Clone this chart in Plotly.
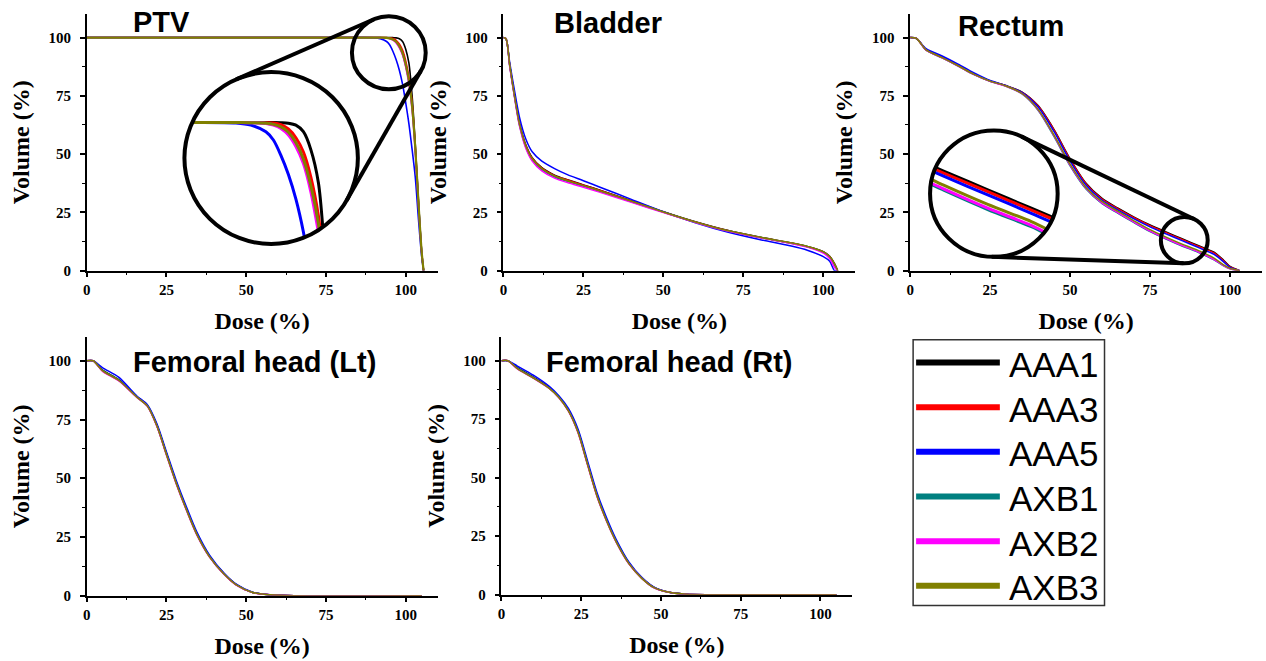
import math
import plotly.graph_objects as go

# ---------------- data ----------------
SERIES = ["AAA1", "AAA3", "AAA5", "AXB1", "AXB2", "AXB3"]
COLORS = ["#000000", "#ff0000", "#0000ff", "#008080", "#ff00ff", "#808000"]
TICKS = [0, 25, 50, 75, 100]
PANEL_TITLES = ["PTV", "Bladder", "Rectum", "Femoral head (Lt)", "Femoral head (Rt)"]

PTV_DOSE = [0, 85, 90, 92, 94, 95, 96, 97, 98, 99, 100, 101, 102, 103, 104, 105, 105.6]
PTV_AAA1 = [100, 100, 100, 100, 100, 100, 99.95, 99.85, 99.5, 98.3, 95, 89, 75, 54, 30, 8, 0]
PTV_AAA3 = [100, 100, 100, 100, 99.95, 99.9, 99.6, 98.8, 97.2, 94.6, 90, 83, 72, 53, 29, 8, 0]
PTV_AAA5 = [100, 100, 99.9, 99.5, 98.3, 96.8, 94, 90.5, 86, 80, 72, 63, 52, 40, 22, 6, 0]
PTV_AXB1 = [100, 100, 100, 99.95, 99.85, 99.6, 99.1, 98.0, 96.0, 93.0, 88.0, 81.0, 70.0, 52, 29, 8, 0]
PTV_AXB2 = [100, 100, 100, 99.95, 99.8, 99.5, 98.9, 97.7, 95.6, 92.5, 87.3, 80.0, 69.0, 51, 28, 7.5, 0]
PTV_AXB3 = [100, 100, 100, 99.95, 99.85, 99.65, 99.2, 98.2, 96.3, 93.3, 88.4, 81.5, 70.5, 52.5, 29, 8, 0]

BL_DOSE = [0, 0.8, 2, 3.5, 5, 7, 9, 12, 16, 20, 25, 30, 40, 50, 60, 70, 80, 90, 95, 100, 102, 103.5, 104.5]
BL_AAA1 = [100, 99.5, 88, 75, 63.5, 54, 48.5, 44.2, 41, 39, 36.8, 34.6, 30, 25.3, 21, 17.3, 14.4, 11.9, 10.4, 8.2, 6.2, 3, 0]
BL_AAA3 = [100, 99.5, 87.8, 74.8, 63.2, 53.7, 48.2, 44, 40.8, 38.9, 36.7, 34.5, 29.9, 25.2, 20.9, 17.2, 14.3, 11.8, 10.3, 8.0, 6.0, 2.8, 0]
BL_AAA5 = [100, 99.5, 89, 77, 66, 56.5, 51, 47, 43.8, 41.2, 38.6, 35.9, 30.6, 25.3, 20.6, 16.6, 13.4, 10.6, 8.8, 6.0, 4.0, 0, 0]
BL_AXB1 = [100, 99.5, 87.5, 74.3, 62.6, 53, 47.5, 43.3, 40.2, 38.3, 36.2, 34.1, 29.6, 25.1, 20.8, 17.1, 14.3, 11.8, 10.3, 7.9, 5.8, 2.5, 0]
BL_AXB2 = [100, 99.5, 87.2, 74, 62.2, 52.5, 47, 42.8, 39.7, 37.8, 35.8, 33.7, 29.3, 24.9, 20.7, 17.0, 14.2, 11.7, 10.1, 7.5, 5.2, 1.5, 0]
BL_AXB3 = [100, 99.5, 87.8, 74.7, 63, 53.5, 48, 43.8, 40.6, 38.6, 36.5, 34.3, 29.8, 25.2, 20.9, 17.2, 14.4, 11.9, 10.4, 8.1, 6.1, 2.9, 0]

RE_DOSE = [0, 2, 5, 10, 15, 20, 25, 30, 35, 40, 45, 50, 55, 60, 65, 70, 75, 80, 85, 90, 95, 98, 100, 103]
RE_AAA1 = [100, 99.6, 94.8, 91.6, 88.1, 84.3, 81.4, 79.3, 76.6, 70.8, 60.5, 48.0, 37.5, 31.0, 26.8, 23.0, 19.6, 16.6, 13.7, 10.8, 7.9, 4.5, 1.8, 0]
RE_AAA3 = [100, 99.6, 94.7, 91.5, 88.0, 84.2, 81.3, 79.3, 76.5, 70.6, 60.3, 47.7, 37.2, 30.7, 26.5, 22.7, 19.3, 16.3, 13.4, 10.5, 7.6, 4.2, 1.6, 0]
RE_AAA5 = [100, 99.6, 95.2, 92.1, 88.6, 84.8, 81.6, 79.4, 76.4, 70.2, 59.6, 47.0, 36.6, 30.2, 26.0, 22.2, 18.8, 15.8, 12.9, 10.0, 7.0, 3.8, 1.4, 0]
RE_AXB1 = [100, 99.6, 94.6, 91.3, 87.8, 84.1, 81.2, 79.1, 75.8, 68.8, 57.5, 45.0, 35.0, 28.8, 24.6, 20.6, 16.8, 13.6, 10.6, 7.9, 4.6, 2.1, 0.8, 0]
RE_AXB2 = [100, 99.6, 94.6, 91.3, 87.8, 84.1, 81.2, 79.1, 75.9, 69.0, 57.8, 45.3, 35.3, 29.0, 24.8, 20.8, 17.0, 13.8, 10.8, 8.1, 4.8, 2.2, 0.8, 0]
RE_AXB3 = [100, 99.6, 94.7, 91.4, 87.9, 84.2, 81.3, 79.2, 76.0, 69.2, 58.1, 45.7, 35.7, 29.6, 25.4, 21.4, 17.6, 14.4, 11.4, 8.7, 5.4, 2.5, 1.0, 0]

FHL_DOSE = [0, 2, 5, 10, 15.7, 19, 22, 25, 28, 31.5, 34.5, 38.5, 43, 47, 52, 57.5, 65, 105]
FHL_AAA1 = [100, 100, 96.0, 92.0, 84.8, 81.0, 72.6, 60.5, 48.5, 36.2, 26.5, 16.8, 9.4, 4.6, 1.4, 0.4, 0, 0]
FHL_AAA3 = [100, 100, 95.6, 91.6, 84.6, 80.8, 72.3, 60.2, 48.2, 35.9, 26.2, 16.6, 9.3, 4.5, 1.4, 0.4, 0, 0]
FHL_AAA5 = [100, 100, 97.0, 93.0, 85.0, 81.3, 73.2, 61.2, 49.3, 37.0, 27.2, 17.3, 9.7, 4.8, 1.5, 0.4, 0, 0]
FHL_AXB1 = [100, 100, 95.8, 91.8, 84.6, 80.9, 72.4, 60.3, 48.3, 36.0, 26.3, 16.7, 9.3, 4.5, 1.4, 0.4, 0, 0]
FHL_AXB2 = [100, 100, 95.5, 91.5, 84.4, 80.6, 72.0, 59.8, 47.8, 35.5, 25.9, 16.4, 9.1, 4.4, 1.3, 0.4, 0, 0]
FHL_AXB3 = [100, 100, 95.7, 91.7, 84.5, 80.7, 72.2, 60.0, 48.0, 35.7, 26.1, 16.5, 9.2, 4.5, 1.4, 0.4, 0, 0]

FHR_DOSE = [0, 2, 5, 10, 15, 18, 21, 24, 27, 30, 33, 36, 40, 44, 48, 53, 58, 65, 105]
FHR_AAA1 = [100, 100, 97.0, 93.0, 88.5, 84.6, 79.0, 70.0, 56.2, 42.6, 32.0, 23.0, 13.5, 7.2, 3.0, 0.9, 0.2, 0, 0]
FHR_AAA3 = [100, 100, 96.7, 92.7, 88.3, 84.4, 78.7, 69.6, 55.8, 42.2, 31.6, 22.7, 13.3, 7.1, 2.9, 0.9, 0.2, 0, 0]
FHR_AAA5 = [100, 100, 97.7, 93.8, 89.0, 85.0, 79.6, 70.8, 57.2, 43.5, 32.8, 23.6, 13.9, 7.4, 3.1, 0.9, 0.2, 0, 0]
FHR_AXB1 = [100, 100, 96.8, 92.8, 88.3, 84.5, 78.8, 69.8, 56.0, 42.4, 31.8, 22.8, 13.4, 7.1, 2.9, 0.9, 0.2, 0, 0]
FHR_AXB2 = [100, 100, 96.5, 92.5, 88.1, 84.2, 78.4, 69.2, 55.4, 41.8, 31.3, 22.4, 13.1, 7.0, 2.8, 0.9, 0.2, 0, 0]
FHR_AXB3 = [100, 100, 96.6, 92.6, 88.2, 84.3, 78.5, 69.4, 55.6, 42.0, 31.4, 22.5, 13.2, 7.0, 2.9, 0.9, 0.2, 0, 0]

PANELS = [
    (PTV_DOSE, [PTV_AAA1, PTV_AAA3, PTV_AAA5, PTV_AXB1, PTV_AXB2, PTV_AXB3]),
    (BL_DOSE, [BL_AAA1, BL_AAA3, BL_AAA5, BL_AXB1, BL_AXB2, BL_AXB3]),
    (RE_DOSE, [RE_AAA1, RE_AAA3, RE_AAA5, RE_AXB1, RE_AXB2, RE_AXB3]),
    (FHL_DOSE, [FHL_AAA1, FHL_AAA3, FHL_AAA5, FHL_AXB1, FHL_AXB2, FHL_AXB3]),
    (FHR_DOSE, [FHR_AAA1, FHR_AAA3, FHR_AAA5, FHR_AXB1, FHR_AXB2, FHR_AXB3]),
]

# ---------------- layout geometry (pixels) ----------------
W, H = 1266, 661
X_MAX = 110
Y_MAX = 110.17   # puts the 100 % level on a whole pixel row in the top panels
# (left, right, top, bottom) of each panel's plot area in px
BOXES = [(83, 435, 14, 274), (501, 854, 14, 274), (909, 1262, 14, 274),
         (83, 435, 341, 603), (499, 851, 341, 602)]
TITLE_POS = [(127, 22), (550, 23), (955, 26), (127, 366), (542, 366)]
# line widths per series in each main panel (PTV: the top-drawn olive covers the flat 100 % run)
PANEL_WIDTHS = [[1.6, 1.6, 1.6, 1.6, 1.6, 2.2]] + [[1.5] * 6] * 4

SERIF = "Liberation Serif, Times New Roman, serif"
SANS = "Liberation Sans, Arial, sans-serif"


def fx(px):
    return px / W


def fy(py):
    return 1 - py / H


def data_to_px(panel, x, y):
    l, r, t, b = BOXES[panel]
    return l + x / X_MAX * (r - l), b - y / Y_MAX * (b - t)


fig = go.Figure()

# main panels
for p, (dose, vols) in enumerate(PANELS):
    sfx = "" if p == 0 else str(p + 1)
    for name, color, vol, lw in zip(SERIES, COLORS, vols, PANEL_WIDTHS[p]):
        fig.add_trace(go.Scatter(x=dose, y=vol, mode="lines", name=name,
                                 line=dict(color=color, width=lw, shape="spline", smoothing=0.8),
                                 xaxis="x" + sfx, yaxis="y" + sfx, showlegend=False))
    l, r, t, b = BOXES[p]
    common = dict(showline=True, linecolor="black", linewidth=1.5,
                  ticks="outside", ticklen=5, tickwidth=1.5, tickcolor="black",
                  tickmode="array", tickvals=TICKS, showgrid=False, zeroline=False,
                  tickfont=dict(family=SERIF, size=15, color="black", weight="bold"),
                  minor=dict(ticks="outside", ticklen=3, tickwidth=1.2, tickcolor="black",
                             dtick=12.5, tick0=0, showgrid=False),
                  fixedrange=True)
    fig.update_layout(**{
        "xaxis" + sfx: dict(common, range=[0, X_MAX], domain=[fx(l), fx(r)], anchor="y" + sfx,
                            title=dict(text="Dose (%)", standoff=15,
                                       font=dict(family=SERIF, size=24, color="black", weight="bold"))),
        "yaxis" + sfx: dict(common, range=[0, Y_MAX], domain=[fy(b), fy(t)], anchor="x" + sfx,
                            ticklabelstandoff=6,
                            title=dict(text="Volume (%)", standoff=12,
                                       font=dict(family=SERIF, size=24, color="black", weight="bold"))),
    })

shapes = []
annotations = []

# panel titles
for (tx, ty), txt in zip(TITLE_POS, PANEL_TITLES):
    annotations.append(dict(text=txt, x=fx(tx), y=fy(ty), xref="paper", yref="paper",
                            xanchor="left", yanchor="middle", showarrow=False,
                            font=dict(family=SANS, size=29, color="black", weight="bold")))


# ---------------- magnifier insets ----------------
def clip_circle(xs, ys, xc, yc, hx, hy):
    def inside(x, y):
        return ((x - xc) / hx) ** 2 + ((y - yc) / hy) ** 2 <= 1.0

    def edge(a, b):
        lo, hi = 0.0, 1.0
        ia = inside(*a)
        for _ in range(40):
            m = (lo + hi) / 2
            pt = (a[0] + (b[0] - a[0]) * m, a[1] + (b[1] - a[1]) * m)
            if inside(*pt) == ia:
                lo = m
            else:
                hi = m
        m = (lo + hi) / 2
        return (a[0] + (b[0] - a[0]) * m, a[1] + (b[1] - a[1]) * m)

    ox, oy = [], []
    n = len(xs)
    for i in range(n):
        cur = (xs[i], ys[i])
        if inside(*cur):
            if i > 0 and not inside(xs[i - 1], ys[i - 1]):
                e = edge(cur, (xs[i - 1], ys[i - 1]))
                ox.append(e[0]); oy.append(e[1])
            ox.append(cur[0]); oy.append(cur[1])
            if i < n - 1 and not inside(xs[i + 1], ys[i + 1]):
                e = edge(cur, (xs[i + 1], ys[i + 1]))
                ox.append(e[0]); oy.append(e[1])
    return ox, oy


def ext_tangents(c1, r1, c2, r2):
    dx, dy = c2[0] - c1[0], c2[1] - c1[1]
    D = math.hypot(dx, dy)
    th = math.atan2(dy, dx)
    a = math.acos((r2 - r1) / D)
    lines = []
    for s in (1, -1):
        phi = th + s * a
        n = (math.cos(phi), math.sin(phi))
        p1 = (c1[0] - r1 * n[0], c1[1] - r1 * n[1])
        p2 = (c2[0] - r2 * n[0], c2[1] - r2 * n[1])
        lines.append((p1, p2))
    return lines


# (panel, small circle centre in data units, small radius px, big centre px, big radius px, axis id)
INSETS = [
    (0, (94.7, 93.5), 37, (268, 160), 87, "6"),
    (2, (85.7, 13.1), 23.5, (993, 196), 64, "7"),
]

for panel, (dxc, dyc), rs, (bx, by), rb, aid in INSETS:
    l, r, t, b = BOXES[panel]
    sx = (r - l) / X_MAX
    sy = (b - t) / Y_MAX
    hx, hy = rs / sx, rs / sy
    dose, vols = PANELS[panel]
    for name, color, vol in zip(SERIES, COLORS, vols):
        cx_, cy_ = clip_circle(dose, vol, dxc, dyc, hx, hy)
        fig.add_trace(go.Scatter(x=cx_, y=cy_, mode="lines", name=name,
                                 line=dict(color=color, width=3, shape="spline", smoothing=0.8),
                                 xaxis="x" + aid, yaxis="y" + aid, showlegend=False))
    fig.update_layout(**{
        "xaxis" + aid: dict(domain=[fx(bx - rb), fx(bx + rb)], range=[dxc - hx, dxc + hx],
                            visible=False, anchor="y" + aid, fixedrange=True),
        "yaxis" + aid: dict(domain=[fy(by + rb), fy(by - rb)], range=[dyc - hy, dyc + hy],
                            visible=False, anchor="x" + aid, fixedrange=True),
    })
    spx, spy = data_to_px(panel, dxc, dyc)
    # small + big circles
    for (ccx, ccy), rr in (((spx, spy), rs), ((bx, by), rb)):
        shapes.append(dict(type="circle", xref="paper", yref="paper",
                           x0=fx(ccx - rr), x1=fx(ccx + rr), y0=fy(ccy + rr), y1=fy(ccy - rr),
                           line=dict(color="black", width=4), layer="above"))
    for p1, p2 in ext_tangents((bx, by), rb, (spx, spy), rs):
        shapes.append(dict(type="line", xref="paper", yref="paper",
                           x0=fx(p1[0]), y0=fy(p1[1]), x1=fx(p2[0]), y1=fy(p2[1]),
                           line=dict(color="black", width=4), layer="above"))

# ---------------- legend box ----------------
LEG = (912, 344, 1104, 613)
shapes.append(dict(type="rect", xref="paper", yref="paper",
                   x0=fx(LEG[0]), x1=fx(LEG[2]), y0=fy(LEG[3]), y1=fy(LEG[1]),
                   line=dict(color="#333333", width=1.5), fillcolor="white", layer="below"))
row0, rowgap = 367, 45.2
for i, (name, color) in enumerate(zip(SERIES, COLORS)):
    ry = row0 + i * rowgap
    shapes.append(dict(type="line", xref="paper", yref="paper",
                       x0=fx(915), x1=fx(999), y0=fy(ry), y1=fy(ry),
                       line=dict(color=color, width=6), layer="above"))
    annotations.append(dict(text=name, x=fx(1006), y=fy(ry + 2), xref="paper", yref="paper",
                            xanchor="left", yanchor="middle", showarrow=False,
                            font=dict(family=SANS, size=35, color="black")))

fig.update_layout(width=W, height=H, margin=dict(l=0, r=0, t=0, b=0),
                  paper_bgcolor="white", plot_bgcolor="rgba(0,0,0,0)",
                  showlegend=False, shapes=shapes, annotations=annotations)

fig.write_html("out.html", config={"displayModeBar": False},
               post_script="document.body.style.margin='0';document.body.style.overflow='hidden';")
